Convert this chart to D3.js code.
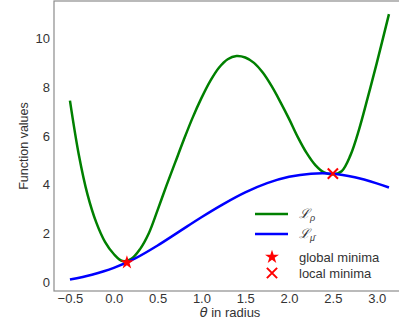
<!DOCTYPE html>
<html>
<head>
<meta charset="utf-8">
<script src="https://cdn.jsdelivr.net/npm/d3@7"></script>
<style>
  body { margin: 0; background: #fff; }
  svg { display: block; }
  text { font-family: "Liberation Sans", Arial, sans-serif; fill: #333; }
</style>
</head>
<body>
<div id="chart"></div>
<script>
// valori
const thetaRho = [-0.5, -0.4, -0.3, -0.2, -0.1, 0.0, 0.1, 0.2, 0.3, 0.4, 0.5, 0.6, 0.7, 0.8, 0.9, 1.0,
  1.1, 1.2, 1.3, 1.4, 1.5, 1.6, 1.7, 1.8, 1.9, 2.0, 2.1, 2.2, 2.3, 2.4, 2.5, 2.6, 2.7, 2.8, 2.9, 3.0, 3.14];
const lossRho = [7.45, 5.25, 3.6, 2.45, 1.65, 1.15, 0.86, 0.95, 1.35, 2.0, 2.95, 3.95, 4.9, 5.85, 6.75, 7.55,
  8.25, 8.8, 9.15, 9.28, 9.22, 9.0, 8.6, 8.05, 7.4, 6.7, 5.95, 5.3, 4.8, 4.5, 4.42, 4.55, 5.2, 6.28, 7.6, 8.98, 11.0];
const thetaMu = [-0.5, -0.25, 0.0, 0.25, 0.5, 0.75, 1.0, 1.25, 1.5, 1.75, 2.0, 2.25, 2.5, 2.75, 3.0, 3.14];
const lossMu = [0.10, 0.30, 0.58, 0.98, 1.50, 2.08, 2.66, 3.20, 3.68, 4.06, 4.32, 4.45, 4.45, 4.30, 4.05, 3.88];
const globalMin = [0.15, 0.8];
const localMin = [2.5, 4.45];
const xTicks = [-0.5, 0.0, 0.5, 1.0, 1.5, 2.0, 2.5, 3.0];
const yTicks = [0, 2, 4, 6, 8, 10];

const width = 399, height = 325;
const svg = d3.select("#chart").append("svg")
    .attr("width", width).attr("height", height);

const plotLeft = 54, plotTop = 1, plotBottom = 291, plotRight = 405;
const x = d3.scaleLinear().domain([-0.682, 3.323]).range([plotLeft, plotRight]);
const y = d3.scaleLinear().domain([-0.37, 11.54]).range([plotBottom, plotTop]);

// cornice
svg.append("rect")
    .attr("x", plotLeft).attr("y", plotTop)
    .attr("width", plotRight - plotLeft).attr("height", plotBottom - plotTop)
    .attr("fill", "none").attr("stroke", "#8c8c8c").attr("stroke-width", 1.2);

// assi
const xAxis = svg.append("g")
    .attr("transform", `translate(0,${plotBottom})`)
    .call(d3.axisBottom(x).tickValues(xTicks).tickSize(0).tickPadding(3)
        .tickFormat(d => d3.format(".1f")(d).replace("-", "\u2212")));
const yAxis = svg.append("g")
    .attr("transform", `translate(${plotLeft},0)`)
    .call(d3.axisLeft(y).tickValues(yTicks).tickSize(0).tickPadding(4));
[xAxis, yAxis].forEach(a => {
    a.select(".domain").remove();
    a.selectAll("text").attr("font-size", 13).attr("fill", "#333")
        .attr("font-family", "'Liberation Sans', Arial, sans-serif");
});

svg.append("text")
    .attr("transform", `translate(28,${(plotTop + plotBottom) / 2}) rotate(-90)`)
    .attr("text-anchor", "middle")
    .attr("font-size", 12.5)
    .text("Function values");

const xl = svg.append("text")
    .attr("x", 230).attr("y", 317)
    .attr("text-anchor", "middle")
    .attr("font-size", 13);
xl.append("tspan").attr("font-style", "italic").attr("font-family", "'DejaVu Sans', sans-serif").text("\u03b8");
xl.append("tspan").text(" in radius");

// curve
const line = d3.line()
    .x(d => x(d[0])).y(d => y(d[1]))
    .curve(d3.curveCatmullRom.alpha(0.5));

svg.append("path")
    .datum(d3.zip(thetaRho, lossRho))
    .attr("d", line)
    .attr("fill", "none").attr("stroke", "green").attr("stroke-width", 2.5);

svg.append("path")
    .datum(d3.zip(thetaMu, lossMu))
    .attr("d", line)
    .attr("fill", "none").attr("stroke", "blue").attr("stroke-width", 2.5);

const star = d3.symbol().type(d3.symbolStar).size(60);
const cross = d3.symbol().type(d3.symbolTimes).size(70);

svg.append("path")
    .attr("transform", `translate(${x(globalMin[0])},${y(globalMin[1])})`)
    .attr("d", star()).attr("fill", "red");
svg.append("path")
    .attr("transform", `translate(${x(localMin[0])},${y(localMin[1])})`)
    .attr("d", cross()).attr("fill", "none").attr("stroke", "red").attr("stroke-width", 2);

// legenda
const lg = svg.append("g").attr("transform", "translate(255,214)");
const rows = [
    { type: "line", color: "green", sub: "\u03c1" },
    { type: "line", color: "blue", sub: "\u03bc\u0304" },
    { type: "star", label: "global minima" },
    { type: "cross", label: "local minima" }
];
const rowY = [0, 20, 43, 59];
rows.forEach((r, i) => {
    const g = lg.append("g").attr("transform", `translate(0,${rowY[i]})`);
    if (r.type === "line") {
        g.append("line").attr("x1", 0).attr("x2", 33).attr("y1", 0).attr("y2", 0)
            .attr("stroke", r.color).attr("stroke-width", 2.5);
        const t = g.append("text").attr("x", 44).attr("y", 4)
            .attr("font-family", "'DejaVu Serif', serif").attr("font-size", 13).attr("fill", "#222");
        t.append("tspan").attr("font-style", "italic").text("\u2112");
        t.append("tspan").attr("font-size", 9).attr("dy", 3).attr("font-style", "italic").text(r.sub);
    } else {
        g.append("path").attr("transform", "translate(17,0)")
            .attr("d", r.type === "star" ? star() : cross())
            .attr("fill", r.type === "star" ? "red" : "none")
            .attr("stroke", r.type === "star" ? "none" : "red")
            .attr("stroke-width", 2);
        g.append("text").attr("x", 44).attr("y", 5)
            .attr("font-size", 13).attr("fill", "#333").text(r.label);
    }
});
</script>
</body>
</html>
